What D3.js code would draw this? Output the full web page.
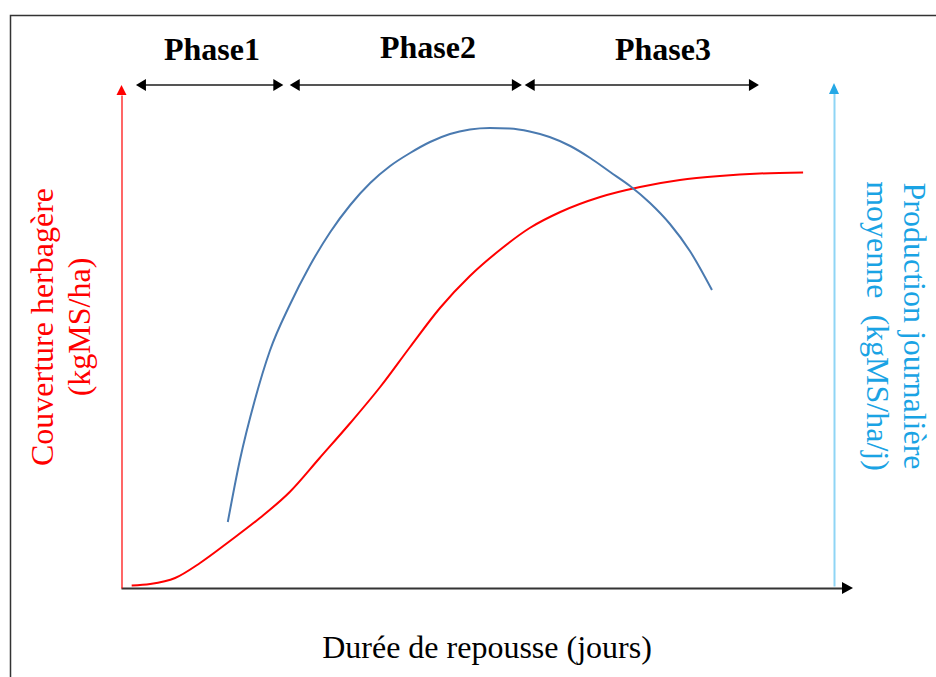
<!DOCTYPE html>
<html><head><meta charset="utf-8">
<script src="https://cdn.jsdelivr.net/npm/d3@7"></script>
<style>body{margin:0;background:#fff}svg{display:block}text{font-family:"Liberation Serif","Times New Roman",serif}</style>
</head><body><svg id="c" width="936" height="677"></svg>
<script>
// ---- data (arbitrary units: days 0-100, values 0-100) ----
const couvertureDays  = [1.5,4.1,7.6,11.1,15.3,19.5,23.7,27.9,32.2,36.4,40.6,44.8,49.0,53.2,57.4,61.7,67.3,72.9,78.5,84.1,89.7,95.8];
const couvertureVals  = [0.5,0.8,2.0,5.0,9.4,14.0,19.2,26.0,33.0,40.2,48.2,56.0,62.4,67.6,72.0,75.2,78.2,80.2,81.6,82.4,82.9,83.1];
const productionDays  = [15.0,16.7,18.8,20.9,23.7,26.5,29.4,32.2,35.0,37.8,40.6,43.4,46.2,49.0,51.8,54.6,57.4,60.2,63.1,65.9,68.7,71.5,74.3,77.1,79.9,83.0];
const productionVals  = [13.2,25.6,37.6,47.4,56.6,64.4,71.2,76.6,81.0,84.4,87.0,89.2,90.8,91.7,92.0,91.9,91.3,90.2,88.4,86.0,83.2,80.4,77.0,72.8,67.4,59.6];
const phaseNames = ["Phase1","Phase2","Phase3"];
const phaseStart = [2.1,23.7,56.7];
const phaseEnd   = [22.8,56.3,89.6];
const xTitle = "Durée de repousse (jours)";
const yLeftTitle = ["Couverture herbagère","(kgMS/ha)"];
const yRightTitle = ["Production journalière","moyenne\u00a0\u00a0(kgMS/ha/j)"];

const svg = d3.select("#c");
const x = d3.scaleLinear().domain([0,100]).range([121,833]);
const y = d3.scaleLinear().domain([0,100]).range([588,88]);

// frame
svg.append("rect").attr("x",10.5).attr("y",15.5).attr("width",960).attr("height",700)
  .attr("fill","none").attr("stroke","#333").attr("stroke-width",1.5);

// arrow head helper
function head(cx,cy,dir,len,hw,color){
  let p;
  if(dir==="up") p=[[cx,cy],[cx-hw,cy+len],[cx+hw,cy+len]];
  else if(dir==="right") p=[[cx,cy],[cx-len,cy-hw],[cx-len,cy+hw]];
  else p=[[cx,cy],[cx+len,cy-hw],[cx+len,cy+hw]];
  svg.append("path").attr("d","M"+p.map(d=>d.join(",")).join("L")+"Z").attr("fill",color);
}

// x axis (no ticks)
const xAxisScale = d3.scaleLinear().domain([0,100]).range([121,845]);
const gx = svg.append("g").attr("transform","translate(0,588)").call(d3.axisBottom(xAxisScale).tickValues([]).tickSizeOuter(0));
gx.select(".domain").attr("stroke","#333").attr("stroke-width",2);
head(853,588,"right",11,6,"#000");

// left axis
const yAxisScale = d3.scaleLinear().domain([0,100]).range([588,95]);
const gl = svg.append("g").attr("transform","translate(121.5,0)").call(d3.axisLeft(yAxisScale).tickValues([]).tickSizeOuter(0));
gl.select(".domain").attr("stroke","#ff0000").attr("stroke-width",1.2);
head(121.5,85,"up",10,5,"#ff0000");

// right axis
const yAxisScaleR = d3.scaleLinear().domain([0,100]).range([586,93]);
const gr = svg.append("g").attr("transform","translate(834,0)").call(d3.axisRight(yAxisScaleR).tickValues([]).tickSizeOuter(0));
gr.select(".domain").attr("stroke","#8fd5f5").attr("stroke-width",2);
head(834,83,"up",11,5,"#25a8e6");

// phases
const py = 85;
phaseNames.forEach((n,i)=>{
  const x0=x(phaseStart[i]), x1=x(phaseEnd[i]);
  svg.append("line").attr("x1",x0+6).attr("x2",x1-6).attr("y1",py).attr("y2",py).attr("stroke","#555").attr("stroke-width",2);
  head(x0,py,"left",10,6,"#000");
  head(x1,py,"right",10,6,"#000");
});
const labelX=[212,428,663], labelY=[60,58,60];
phaseNames.forEach((n,i)=>{
  svg.append("text").attr("x",labelX[i]).attr("y",labelY[i]).attr("text-anchor","middle")
    .attr("font-size",32).attr("font-weight","bold").attr("fill","#000").text(n);
});

// curves
const line = d3.line().x(d=>x(d[0])).y(d=>y(d[1])).curve(d3.curveMonotoneX);
svg.append("path").datum(couvertureDays.map((d,i)=>[d,couvertureVals[i]]))
  .attr("d",line).attr("fill","none").attr("stroke","#ff0000").attr("stroke-width",2);
svg.append("path").datum(productionDays.map((d,i)=>[d,productionVals[i]]))
  .attr("d",line).attr("fill","none").attr("stroke","#4a7ab0").attr("stroke-width",2);

// titles
svg.append("text").attr("x",487).attr("y",658).attr("text-anchor","middle").attr("font-size",32).attr("fill","#000").text(xTitle);
yLeftTitle.forEach((t,i)=>{
  svg.append("text").attr("transform",`translate(${53+37*i},327) rotate(-90)`).attr("text-anchor","middle")
    .attr("font-size",32).attr("fill","#ff0000").text(t);
});
yRightTitle.forEach((t,i)=>{
  svg.append("text").attr("transform",`translate(${904-37*i},326) rotate(90)`).attr("text-anchor","middle")
    .attr("font-size",32).attr("fill","#1aa3e4").text(t);
});
</script></body></html>
